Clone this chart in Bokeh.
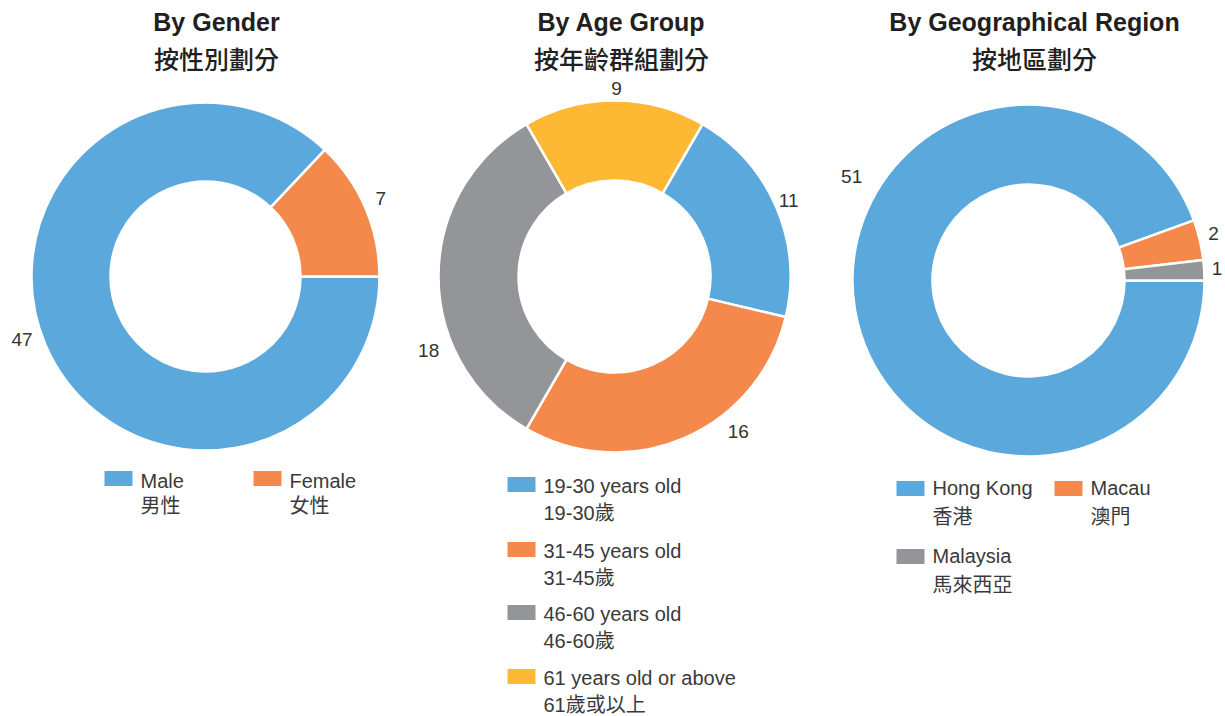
import numpy as np
from bokeh.plotting import figure
from bokeh.models import Range1d, ColumnDataSource
from bokeh.core.properties import value
from bokeh.embed import file_html
from bokeh.resources import INLINE

# ---------------- data ----------------
titles_en = ["By Gender", "By Age Group", "By Geographical Region"]
titles_zh = ["按性別劃分", "按年齡群組劃分", "按地區劃分"]

gender_en = ["Male", "Female"]
gender_zh = ["男性", "女性"]
gender_values = [47, 7]

age_en = ["19-30 years old", "31-45 years old", "46-60 years old", "61 years old or above"]
age_zh = ["19-30歲", "31-45歲", "46-60歲", "61歲或以上"]
age_values = [11, 16, 18, 9]

region_en = ["Hong Kong", "Macau", "Malaysia"]
region_zh = ["香港", "澳門", "馬來西亞"]
region_values = [51, 2, 1]

# ---------------- style ----------------
BLUE, ORANGE, GRAY, YELLOW = "#5BA8DC", "#F5894B", "#939598", "#FDB934"
TEXT = "#231F20"
LEG_TEXT = "#3A3A3A"
LATIN = "'Liberation Sans', 'Noto Sans CJK TC'"
CJK_MED = "'Noto Sans CJK TC Medium', 'Noto Sans CJK TC'"

W, H = 1225, 716
def X(px): return px
def Y(py): return H - py

charts = [
    dict(en=gender_en, zh=gender_zh, vals=gender_values, colors=[BLUE, ORANGE],
         cx=205, cy=276, R=174, r=95, start=0, tx=216,
         lab_ang=[199, 24], lab_r=[194, 192],
         legend=[(104, 478), (253, 478)], en_dy=2, zh_dy=27),
    dict(en=age_en, zh=age_zh, vals=age_values, colors=[BLUE, ORANGE, GRAY, YELLOW],
         cx=614, cy=276, R=176, r=96, start=60, tx=621,
         lab_ang=[23.6, -51.3, 201.7, 89.4], lab_r=[190, 198, 200, 188],
         legend=[(507, 484), (507, 549), (507, 612), (507, 676)], en_dy=1, zh_dy=28),
    dict(en=region_en, zh=region_zh, vals=region_values, colors=[BLUE, ORANGE, GRAY],
         cx=1028, cy=280, R=176, r=96, start=0, tx=1034,
         lab_ang=[149.6, 14.3, 3.6], lab_r=[205, 191, 189],
         legend=[(896, 488), (1054, 488), (896, 556)], en_dy=-1, zh_dy=28),
]

p = figure(width=W, height=H, x_range=Range1d(0, W), y_range=Range1d(0, H),
           output_backend="svg", toolbar_location=None,
           x_axis_type=None, y_axis_type=None, min_border=0)
p.grid.visible = False
p.outline_line_color = None
p.background_fill_color = "white"
p.border_fill_color = "white"

for i, c in enumerate(charts):
    vals = np.array(c["vals"], dtype=float)
    frac = vals / vals.sum() * 2 * np.pi
    cum = np.concatenate([[0], np.cumsum(frac)])
    a0 = np.deg2rad(c["start"])
    starts = a0 - cum[1:]
    ends = a0 - cum[:-1]
    n = len(vals)
    src = ColumnDataSource(dict(x=[X(c["cx"])] * n, y=[Y(c["cy"])] * n,
                                s=starts, e=ends, color=c["colors"]))
    p.annular_wedge(x="x", y="y", inner_radius=c["r"], outer_radius=c["R"],
                    start_angle="s", end_angle="e", fill_color="color",
                    line_color="white", line_width=2.5, direction="anticlock",
                    source=src)

    # value labels
    la = np.deg2rad(c["lab_ang"])
    lr = np.array(c["lab_r"])
    lx = X(c["cx"]) + lr * np.cos(la)
    ly = Y(c["cy"]) + lr * np.sin(la)
    p.text(x=lx, y=ly, text=[str(v) for v in c["vals"]],
           text_font=value(LATIN), text_font_size="19px", text_color="#333333",
           text_align="center", text_baseline="middle")

    # titles
    p.text(x=[X(c["tx"])], y=[Y(21)], text=[titles_en[i]],
           text_font=value(LATIN), text_font_size="25px", text_font_style="bold",
           text_color=TEXT, text_align="center", text_baseline="middle")
    p.text(x=[X(c["tx"])], y=[Y(57)], text=[titles_zh[i]],
           text_font=value(CJK_MED), text_font_size="25px",
           text_color=TEXT, text_align="center", text_baseline="middle")

    # legend
    bx = np.array([X(pt[0]) for pt in c["legend"]])
    by = np.array([Y(pt[1]) for pt in c["legend"]])
    p.rect(x=bx + 14, y=by, width=28, height=15, fill_color=c["colors"], line_color=None)
    p.text(x=bx + 36, y=by - c["en_dy"], text=c["en"],
           text_font=value(LATIN), text_font_size="20px", text_color=LEG_TEXT,
           text_align="left", text_baseline="middle")
    p.text(x=bx + 36, y=by - c["zh_dy"], text=c["zh"],
           text_font=value(LATIN), text_font_size="20px", text_color=LEG_TEXT,
           text_align="left", text_baseline="middle")

open("out.html", "w").write(file_html(p, INLINE))
